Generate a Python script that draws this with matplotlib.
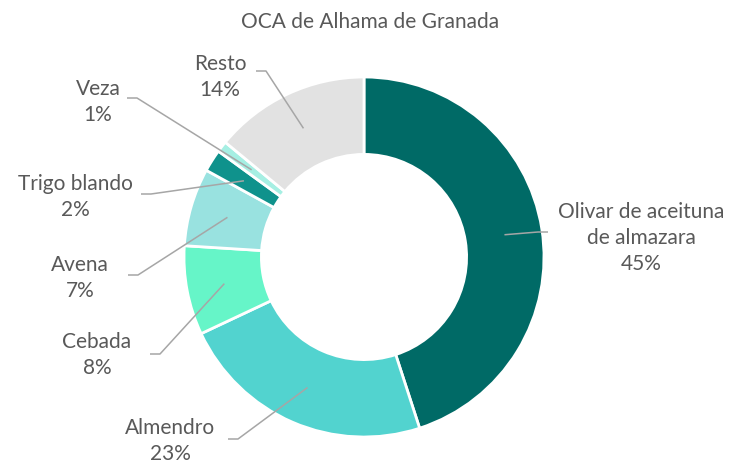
import numpy as np
import matplotlib.pyplot as plt

# Data
cultivos = ['Olivar de aceituna\nde almazara', 'Almendro', 'Cebada', 'Avena',
            'Trigo blando', 'Veza', 'Resto']
porcentajes = [45, 23, 8, 7, 2, 1, 14]
colores = ['#006A66', '#52D3CF', '#66F5C8', '#99E2E0', '#0F928C', '#A6EFE3', '#E2E2E2']

# label centres and leader ends, in pixels of the 738x464 picture
etiq_px = [(641, 238), (170, 441), (97, 355), (80, 278), (75, 197), (98, 102), (220, 77)]
guia_px = [(548, 233), (228, 440), (150, 355), (128, 276), (141, 195), (127, 99), (256, 72)]

CX, CY, R = 364, 258, 180   # donut centre and outer radius (px)


def a_datos(p):
    return ((p[0] - CX) / R, (CY - p[1]) / R)


fig = plt.figure(figsize=(7.38, 4.64), dpi=100)
ax = fig.add_axes([0, 0, 1, 1])

wedges, _ = ax.pie(porcentajes, colors=colores, startangle=90, counterclock=False,
                   radius=1, wedgeprops=dict(width=0.43, edgecolor='white', linewidth=2))
ax.set_aspect('auto')
ax.set_xlim(-CX / R, (738 - CX) / R)
ax.set_ylim(-(464 - CY) / R, CY / R)
ax.axis('off')

gris = '#A6A6A6'
texto = '#595959'
for w, nombre, pct, pe, pg in zip(wedges, cultivos, porcentajes, etiq_px, guia_px):
    ang = np.deg2rad((w.theta1 + w.theta2) / 2)
    x0, y0 = 0.79 * np.cos(ang), 0.79 * np.sin(ang)
    gx, gy = a_datos(pg)
    paso = 10 / R if gx < x0 else -10 / R
    ax.plot([x0, gx + paso, gx], [y0, gy, gy], color=gris, lw=1.1, solid_capstyle='butt')
    tx, ty = a_datos(pe)
    ax.text(tx, ty, f'{nombre}\n{pct}%', ha='center', va='center', fontsize=15,
            color=texto, family='Lato', linespacing=1.4)

tx, ty = a_datos((370, 22))
ax.text(tx, ty, 'OCA de Alhama de Granada', ha='center', va='center', fontsize=15,
        color=texto, family='Lato')

fig.savefig('out.png', dpi=100)
